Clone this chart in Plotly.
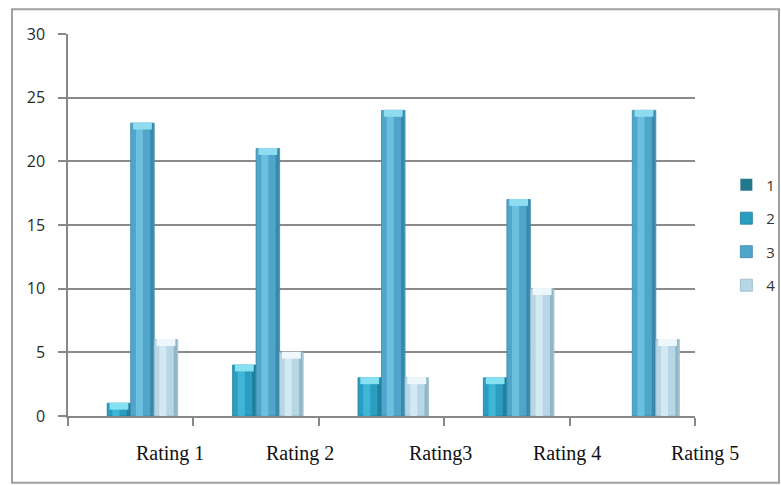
import plotly.graph_objects as go

categories = ["Rating 1", "Rating 2", "Rating3", "Rating 4", "Rating 5"]
series_names = ["1", "2", "3", "4"]
s1 = [0, 0, 0, 0, 0]
s2 = [1, 4, 3, 3, 0]
s3 = [23, 21, 24, 17, 24]
s4 = [6, 5, 3, 10, 6]
y_ticks = [0, 5, 10, 15, 20, 25, 30]
# where each category label sits, in category units (labels are drawn off-centre in the original)
label_pos = [0.31, 1.35, 2.47, 3.48, 4.58]

series = [s1, s2, s3, s4]
base_col = ["#24788e", "#2a9dc0", "#4fa6ca", "#b7d7e6"]
dark_col = ["#1b5d6e", "#1f7f9c", "#3a88ab", "#93b6c6"]
light_col = ["#3c9ab0", "#3fb6d6", "#6cc0df", "#d3e8f1"]
cap_col = ["#5fc0d4", "#86e2f2", "#8fdcf0", "#eef7fb"]

x_idx = list(range(len(categories)))
n = len(series)
w = 0.75 / n

fig = go.Figure()
for i, (name, vals) in enumerate(zip(series_names, series)):
    off = -0.375 + i * w
    fig.add_trace(go.Bar(
        x=x_idx, y=vals, name=name, width=w, offset=off,
        marker=dict(color=base_col[i],
                    line=dict(color=dark_col[i], width=[0.8 if v > 0 else 0 for v in vals])),
        legendgroup=name, hoverinfo="skip",
    ))
    # cylinder shading: light highlight strip and dark right edge
    fig.add_trace(go.Bar(
        x=x_idx, y=vals, width=w * 0.3, offset=off + w * 0.22,
        marker=dict(color=light_col[i], line=dict(width=0)),
        showlegend=False, hoverinfo="skip",
    ))
    fig.add_trace(go.Bar(
        x=x_idx, y=vals, width=w * 0.14, offset=off + w * 0.83,
        marker=dict(color=dark_col[i], line=dict(width=0)),
        showlegend=False, hoverinfo="skip",
    ))
    # elliptical top cap (approximated)
    fig.add_trace(go.Bar(
        x=x_idx, y=[0.55 if v > 0 else 0 for v in vals],
        base=[v - 0.5 for v in vals], width=w * 0.8, offset=off + w * 0.1,
        marker=dict(color=cap_col[i], line=dict(width=0)),
        showlegend=False, hoverinfo="skip",
    ))

for lab, p in zip(categories, label_pos):
    fig.add_annotation(
        x=(p + 0.5) / len(categories), y=0, xref="paper", yref="paper",
        xanchor="center", yanchor="top", yshift=-24, text=lab, showarrow=False,
        font=dict(family="Liberation Serif", size=20, color="#111111"),
    )

fig.update_layout(
    width=781, height=485,
    margin=dict(l=68, r=86, t=34, b=69, autoexpand=False),
    paper_bgcolor="white", plot_bgcolor="white",
    barmode="overlay",
    showlegend=True,
    legend=dict(x=1.05, y=0.474, xanchor="left", yanchor="middle",
                bgcolor="rgba(0,0,0,0)",
                font=dict(family="Open Sans", size=15, color="#333333"),
                tracegroupgap=11, traceorder="grouped",
                itemwidth=30),
    xaxis=dict(range=[-0.5, 4.5], showgrid=False, zeroline=False,
               showline=True, linecolor="#888888", linewidth=1.5,
               tickvals=[-0.5, 0.5, 1.5, 2.5, 3.5, 4.5], ticktext=[""] * 6,
               ticks="outside", ticklen=8, tickcolor="#888888", tickwidth=1.5),
    yaxis=dict(range=[0, 30], tickvals=y_ticks, showgrid=True,
               gridcolor="#8a8a8a", gridwidth=1.5, zeroline=False,
               showline=True, linecolor="#888888", linewidth=1.5,
               ticks="outside", ticklen=8, tickcolor="#888888", tickwidth=1.5,
               ticklabelstandoff=10,
               tickfont=dict(family="Open Sans", size=16, color="#2a2a2a")),
)

fig.add_shape(type="rect", xref="paper", yref="paper",
              x0=-0.0893, x1=1.134, y0=-0.175, y1=1.065,
              line=dict(color="#a0a0a0", width=2), layer="below")

fig.write_html("out.html")
